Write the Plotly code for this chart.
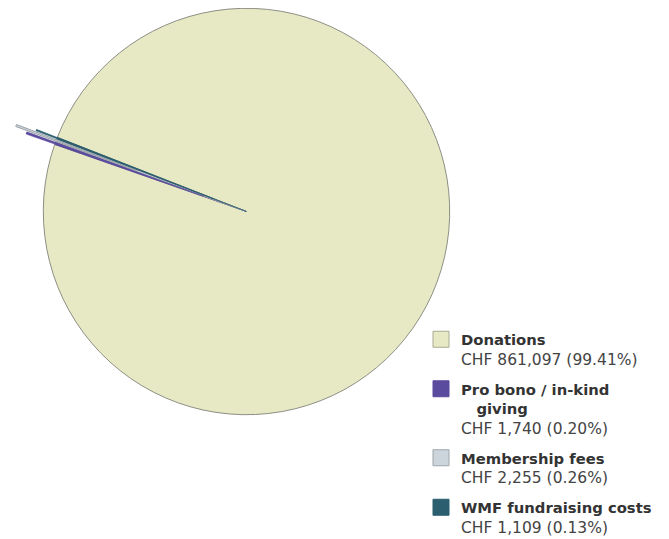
import math
import plotly.graph_objects as go

# ---- data ----
names = ["Donations", "Pro bono / in-kind giving", "Membership fees", "WMF fundraising costs"]
legend_titles = ["Donations", "Pro bono / in-kind<br>\u00a0\u00a0\u00a0giving", "Membership fees", "WMF fundraising costs"]
values = [861097, 1740, 2255, 1109]
amounts = ["CHF 861,097", "CHF 1,740", "CHF 2,255", "CHF 1,109"]
percents = ["99.41%", "0.20%", "0.26%", "0.13%"]
pulls = [0, 0.15, 0.21, 0.11]

# ---- style ----
colors = ["#E6E9C4", "#5B4B9F", "#CDD5DC", "#2B5F6F"]
line_colors = ["#8E8F84", "#5B4B9F", "#9AA2A8", "#2B5F6F"]
swatch_lines = ["#A9AA92", "#5B4B9F", "#9EA5AB", "#2B5F6F"]
line_widths = [1, 0.5, 1, 0.5]
W, H = 669, 539
OFF = 8                                   # page body margin
CX, CY, R = 246.5 - OFF, 211.5 - OFF, 203.2   # pie centre / radius in pixels
ROT = -68.6                               # start angle of first slice (clockwise from 12 o'clock)
FONT = "DejaVu Sans"

labels = [f"<b><span style='font-size:14.8px'>{t}</span></b><br>"
          f"<span style='font-size:15.5px;color:#444444'>{a} ({p})</span>"
          for t, a, p in zip(legend_titles, amounts, percents)]


def domain_for(cx, cy, r):
    return dict(x=[(cx - r) / W, (cx + r) / W], y=[1 - (cy + r) / H, 1 - (cy - r) / H])


fig = go.Figure()
fig.add_trace(go.Pie(
    labels=names, values=values, sort=False, direction="clockwise", rotation=ROT,
    marker=dict(colors=colors, line=dict(color=line_colors, width=line_widths)),
    textinfo="none", hoverinfo="label+value+percent", domain=domain_for(CX, CY, R), showlegend=False,
))

# pulled-out small slices: copies of the same pie, offset along the slice bisector
total = sum(values)
cum = 0
for k, v in enumerate(values):
    start = cum
    cum += v
    if pulls[k] == 0:
        continue
    mid = ROT + 360 * (start + v / 2) / total
    ux, uy = math.sin(math.radians(mid)), -math.cos(math.radians(mid))
    outer = R * (1 + pulls[k])
    d = pulls[k] * R
    # keep the copy's square box inside the figure (move apex outwards, shrink radius)
    for c, u, size in ((CX, ux, W), (CY, uy, H)):
        if 1 + u > 1e-6:
            d = max(d, (outer - c) / (1 + u) + 0.5)
        if 1 - u > 1e-6:
            d = max(d, (outer - (size - c)) / (1 - u) + 0.5)
    r = outer - d
    cols = ["rgba(0,0,0,0)"] * len(values)
    cols[k] = colors[k]
    lcols = ["rgba(0,0,0,0)"] * len(values)
    lcols[k] = line_colors[k]
    lw = [0] * len(values)
    lw[k] = line_widths[k]
    fig.add_trace(go.Pie(
        labels=names, values=values, sort=False, direction="clockwise", rotation=ROT,
        marker=dict(colors=cols, line=dict(color=lcols, width=lw)),
        textinfo="none", hoverinfo="skip", showlegend=False,
        domain=domain_for(CX + d * ux, CY + d * uy, r),
    ))

# legend entries (square swatches)
for k in range(len(values)):
    fig.add_trace(go.Scatter(
        x=[None], y=[None], mode="markers", name=labels[k], legendgroup=f"g{k}",
        marker=dict(symbol="square", size=18, color=colors[k], line=dict(color=swatch_lines[k], width=1)),
        hoverinfo="skip",
    ))

fig.update_layout(
    width=W, height=H, margin=dict(l=0, r=0, t=0, b=0),
    paper_bgcolor="white", plot_bgcolor="rgba(0,0,0,0)",
    xaxis=dict(visible=False), yaxis=dict(visible=False),
    font=dict(family=FONT, size=15, color="#333333"),
    legend=dict(x=(421 - OFF) / W, y=1 - (323 - OFF) / H, xanchor="left", yanchor="top",
                valign="top", bgcolor="rgba(0,0,0,0)", tracegroupgap=7.5,
                font=dict(family=FONT, size=15, color="#333333"), traceorder="grouped"),
)

fig.write_html("out.html")
